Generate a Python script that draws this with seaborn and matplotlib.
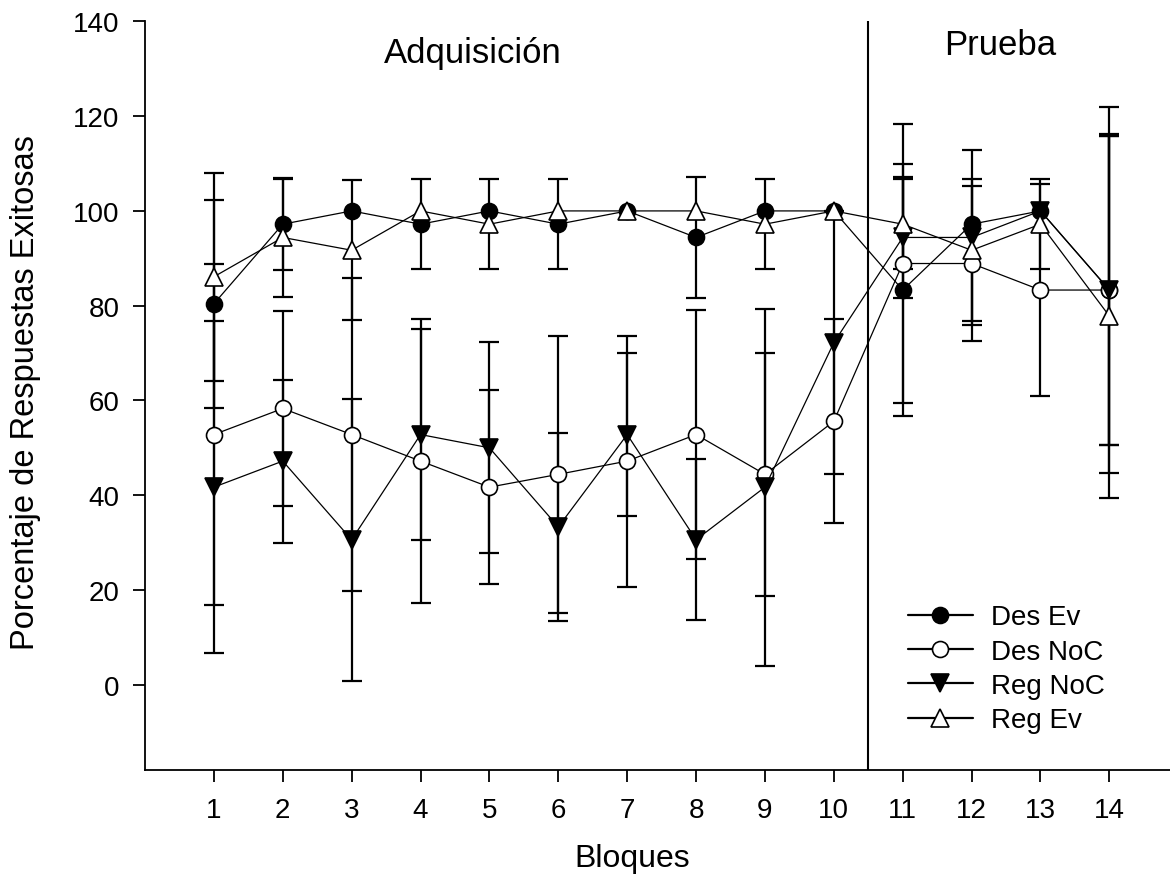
import numpy as np
import pandas as pd
import matplotlib
matplotlib.use('Agg')
import matplotlib.pyplot as plt
import seaborn as sns

# Datos (media y barra de error por bloque)
bloques = np.arange(1, 15)

des_ev = [80.4, 97.2, 100, 97.2, 100, 97.2, 100, 94.4, 100, 100, 83.3, 97.2, 100, 83.3]
des_ev_err = [22.0, 9.6, 0, 9.5, 0, 9.5, 0, 12.8, 0, 0, 26.5, 0, 0, 32.6]

des_noc = [52.8, 58.3, 52.8, 47.2, 41.7, 44.4, 47.2, 52.8, 44.4, 55.6, 88.9, 88.9, 83.3, 83.3]
des_noc_err = [36.0, 20.5, 33.0, 30.0, 20.5, 29.3, 26.5, 26.3, 25.6, 21.5, 29.4, 16.3, 22.3, 38.7]

reg_noc = [41.7, 47.2, 30.6, 52.8, 50.0, 33.3, 52.8, 30.6, 41.7, 72.2, 94.4, 94.4, 100, 83.3]
reg_noc_err = [35.0, 17.2, 29.8, 22.3, 22.3, 19.8, 17.2, 17.0, 37.7, 27.8, 12.8, 18.5, 0, 32.6]

reg_ev = [86.1, 94.4, 91.7, 100, 97.2, 100, 100, 100, 97.2, 100, 97.2, 91.7, 97.2, 77.8]
reg_ev_err = [21.9, 12.6, 14.8, 0, 9.5, 0, 0, 0, 9.5, 0, 9.5, 15.0, 9.5, 38.4]

y_ticks = [0, 20, 40, 60, 80, 100, 120, 140]

sns.set_style('ticks')
plt.rcParams['font.family'] = ['Liberation Sans', 'DejaVu Sans']
plt.rcParams['text.color'] = 'black'
plt.rcParams['axes.labelcolor'] = 'black'
plt.rcParams['xtick.color'] = 'black'
plt.rcParams['ytick.color'] = 'black'
plt.rcParams['axes.edgecolor'] = 'black'

fig = plt.figure(figsize=(11.7, 8.79), dpi=100)
ax = fig.add_axes([145 / 1170, 108 / 879, 1 - 145 / 1170, 748.6 / 879])

series = [
    ('Des Ev', des_ev, des_ev_err, 'o', 'black', 11.5),
    ('Des NoC', des_noc, des_noc_err, 'o', 'white', 11.5),
    ('Reg NoC', reg_noc, reg_noc_err, 'v', 'black', 13),
    ('Reg Ev', reg_ev, reg_ev_err, '^', 'white', 13),
]

# barras de error primero (se ocultan las de error cero)
for name, vals, errs, mk, face, ms in series:
    v = np.array(vals)
    e = np.array(errs)
    m = e > 0
    ax.errorbar(bloques[m], v[m], yerr=e[m], fmt='none', ecolor='black',
                elinewidth=1.6, capsize=7, capthick=1.6, zorder=2)

# lineas con marcadores
for name, vals, errs, mk, face, ms in series:
    sns.lineplot(x=bloques, y=vals, ax=ax, color='black', linewidth=0.9,
                 marker=mk, markersize=ms, markerfacecolor=face,
                 markeredgecolor='black', markeredgewidth=1.2,
                 label=name, zorder=3)

# separacion entre fases
ax.axvline(10.5, color='black', linewidth=1.5, zorder=1)

ax.text(4.76, 131.4, 'Adquisición', ha='center', va='baseline', fontsize=25)
ax.text(12.41, 133.1, 'Prueba', ha='center', va='baseline', fontsize=25)

ax.set_xlim(0, 14.88)
ax.set_ylim(-18, 140)
ax.set_xticks(bloques)
ax.set_yticks(y_ticks)
ax.tick_params(axis='both', labelsize=20, length=8.5, width=1.3, direction='out')
ax.tick_params(axis='x', pad=11)
ax.tick_params(axis='y', pad=10)

ax.set_xlabel('Bloques', fontsize=23)
ax.set_ylabel('Porcentaje de Respuestas Exitosas', fontsize=23.5)
ax.xaxis.set_label_coords(0.4756, -0.098)
ax.yaxis.set_label_coords(-0.101, 0.505)

sns.despine(ax=ax)
for s in ['left', 'bottom']:
    ax.spines[s].set_linewidth(1.3)

leg = ax.legend(loc='upper left', bbox_to_anchor=(0.764, 0.327),
                bbox_transform=fig.transFigure, frameon=False, fontsize=20,
                borderpad=0, handlelength=2.35, handletextpad=0.65, labelspacing=0.3)
for h in leg.legend_handles:
    h.set_linewidth(1.6)

fig.savefig('out.png', dpi=100)
